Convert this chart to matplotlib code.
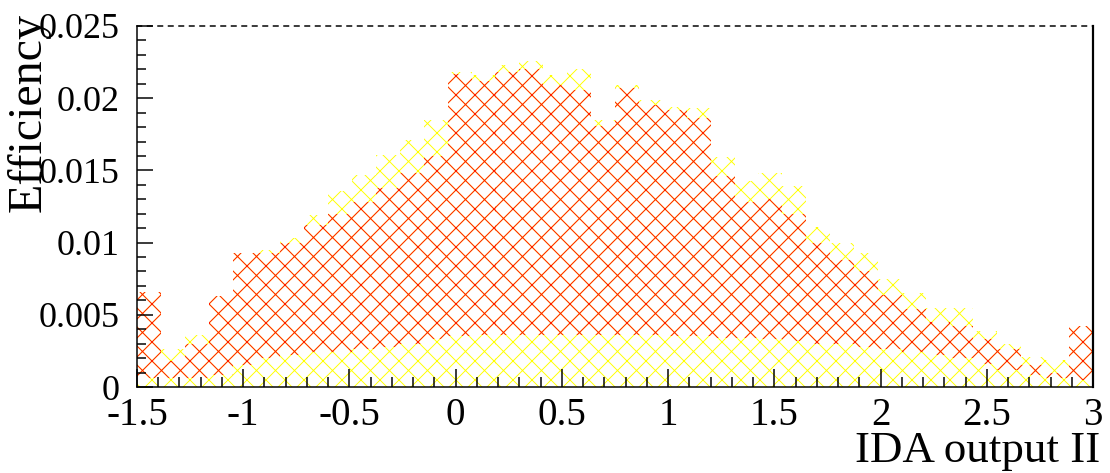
import numpy as np
import matplotlib
matplotlib.use("Agg")
import matplotlib.pyplot as plt
from matplotlib.ticker import MultipleLocator, FixedLocator

# ---- data ----
x_min, x_max, n_bins = -1.5, 3.0, 40
x_ticks = [-1.5, -1, -0.5, 0, 0.5, 1, 1.5, 2, 2.5, 3]
x_tick_labels = ["-1.5", "-1", "-0.5", "0", "0.5", "1", "1.5", "2", "2.5", "3"]
y_ticks = [0, 0.005, 0.01, 0.015, 0.02, 0.025]
y_tick_labels = ["0", "0.005", "0.01", "0.015", "0.02", "0.025"]

# yellow hatched histogram (outer envelope)
yellow_eff = [0.0066, 0.0026, 0.0036, 0.0063, 0.0093, 0.0095, 0.0103, 0.0119,
              0.0136, 0.0147, 0.0161, 0.0171, 0.0185, 0.0218, 0.0216, 0.0223,
              0.0226, 0.0216, 0.0220, 0.0185, 0.0209, 0.0199, 0.0194, 0.0193,
              0.0159, 0.0143, 0.0148, 0.0139, 0.0111, 0.0100, 0.0093, 0.0075,
              0.0065, 0.0055, 0.0055, 0.0039, 0.0030, 0.0021, 0.0019, 0.0042]
# red hatched histogram: visible band (lower edge, upper edge)
red_low = [0.0006, 0.0006, 0.0006, 0.0008, 0.0015, 0.0020, 0.0022, 0.0024,
           0.0024, 0.0026, 0.0028, 0.0030, 0.0033, 0.0035, 0.0036, 0.0036,
           0.0036, 0.0036, 0.0036, 0.0036, 0.0036, 0.0036, 0.0035, 0.0035,
           0.0034, 0.0034, 0.0033, 0.0032, 0.0030, 0.0030, 0.0028, 0.0026,
           0.0024, 0.0022, 0.0020, 0.0016, 0.0012, 0.0008, 0.0006, 0.0005]
red_high = [0.0066, 0.0018, 0.0030, 0.0063, 0.0093, 0.0093, 0.0100, 0.0112,
            0.0120, 0.0128, 0.0138, 0.0148, 0.0160, 0.0217, 0.0212, 0.0218,
            0.0220, 0.0209, 0.0206, 0.0181, 0.0207, 0.0195, 0.0192, 0.0186,
            0.0146, 0.0128, 0.0130, 0.0120, 0.0100, 0.0088, 0.0080, 0.0064,
            0.0054, 0.0045, 0.0042, 0.0033, 0.0026, 0.0015, 0.0010, 0.0042]

# ---- styling ----
DPI = 114
W, H = 1110, 473
def pt(px):
    return px * 72.0 / DPI

plt.rcParams['font.family'] = ['Liberation Serif', 'DejaVu Serif']
plt.rcParams['hatch.linewidth'] = 0.6
plt.rcParams['axes.unicode_minus'] = False

fig = plt.figure(figsize=(W / DPI, H / DPI), dpi=DPI)
L, R, B, T = 137, 1093, 387, 26
ax = fig.add_axes([L / W, 1 - B / H, (R - L) / W, (B - T) / H])

edges = np.linspace(x_min, x_max, n_bins + 1)
width = edges[1] - edges[0]

yellow = np.array(yellow_eff)
rlo = np.array(red_low)
rhi = np.array(red_high)

ax.bar(edges[:-1], yellow, width=width, align='edge', facecolor='none',
       edgecolor='#ffff00', hatch='xx', linewidth=0)
ax.bar(edges[:-1], rhi - rlo, bottom=rlo, width=width, align='edge',
       facecolor='none', edgecolor=(1.0, 0.0, 0.0, 0.9), hatch='xx', linewidth=0)

ax.set_xlim(x_min, x_max)
ax.set_ylim(0, 0.025)

ax.xaxis.set_major_locator(FixedLocator(x_ticks))
ax.set_xticklabels(x_tick_labels)
ax.xaxis.set_minor_locator(MultipleLocator(0.1))
ax.yaxis.set_major_locator(FixedLocator(y_ticks))
ax.set_yticklabels(y_tick_labels)
ax.yaxis.set_minor_locator(MultipleLocator(0.001))

ax.tick_params(axis='x', which='major', direction='in', length=pt(18), width=pt(1.5),
               labelsize=pt(39), pad=pt(10), top=False)
ax.tick_params(axis='x', which='minor', direction='in', length=pt(10), width=pt(1.5), top=False)
ax.tick_params(axis='y', which='major', direction='in', length=pt(16), width=pt(1.5),
               labelsize=pt(36), pad=pt(17), right=False)
ax.tick_params(axis='y', which='minor', direction='in', length=pt(9), width=pt(1.5), right=False)

for s in ['left', 'bottom']:
    ax.spines[s].set_linewidth(pt(1.5))
ax.spines['right'].set_linewidth(pt(2.2))
ax.spines['top'].set_linewidth(pt(1.5))
ax.spines['top'].set_linestyle((0, (3, 4)))

fig.text(1100 / W, 1 - 462 / H, "IDA output II", ha='right', va='baseline',
         fontsize=pt(45))
fig.text(29 / W, 1 - 13 / H, "Efficiency", rotation=90, ha='center', va='top',
         fontsize=pt(48))

fig.savefig("out.png", dpi=DPI)
